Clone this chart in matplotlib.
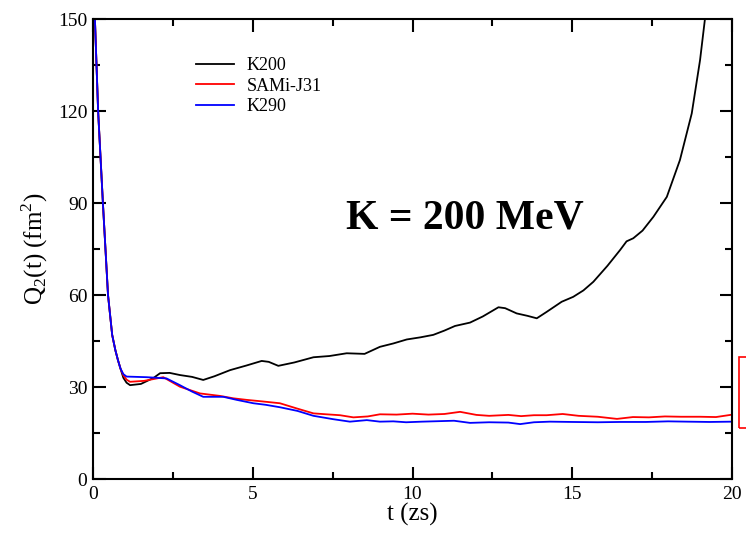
import matplotlib
matplotlib.use("Agg")
import matplotlib.pyplot as plt
from matplotlib.patches import Rectangle
from matplotlib.ticker import MultipleLocator

plt.rcParams['font.family'] = ['Liberation Serif', 'DejaVu Serif']
plt.rcParams['mathtext.fontset'] = 'custom'
plt.rcParams['mathtext.rm'] = 'Liberation Serif'

# shared initial decay (all three models coincide)
t_start = [0.0, 0.06, 0.16, 0.31, 0.47, 0.60, 0.70, 0.78, 0.86]
q_start = [156.0, 150.0, 120.0, 90.0, 60.0, 47.0, 42.0, 38.8, 36.0]

# K200
t_k200 = [0.95, 1.05, 1.16, 1.5, 1.9, 2.1, 2.4, 2.72, 3.1, 3.45, 3.8, 4.29, 4.8,
          5.28, 5.5, 5.8, 6.3, 6.9, 7.4, 7.94, 8.5, 8.98, 9.4, 9.82, 10.25, 10.65,
          11.0, 11.33, 11.8, 12.2, 12.69, 12.9, 13.26, 13.6, 13.89, 14.2, 14.67,
          15.03, 15.35, 15.66, 16.1, 16.5, 16.7, 16.91, 17.2, 17.54, 17.96, 18.37,
          18.74, 19.0, 19.15, 19.25]
q_k200 = [33.0, 31.4, 30.6, 31.0, 33.0, 34.5, 34.6, 33.9, 33.3, 32.3, 33.5, 35.5,
          37.0, 38.5, 38.2, 36.9, 38.0, 39.7, 40.1, 41.0, 40.8, 43.1, 44.2, 45.5,
          46.2, 47.0, 48.4, 49.9, 51.0, 53.0, 56.0, 55.7, 54.0, 53.2, 52.4, 54.5,
          57.8, 59.4, 61.5, 64.3, 69.5, 74.7, 77.5, 78.5, 81.0, 85.5, 92.0, 104.0,
          119.2, 136.6, 149.7, 160.0]

# SAMi-J31
t_sami = [0.95, 1.05, 1.16, 1.6, 2.2, 2.72, 3.35, 3.97, 4.4, 4.81, 5.3, 5.85, 6.38,
          6.9, 7.3, 7.73, 8.15, 8.6, 8.98, 9.5, 10.0, 10.5, 11.0, 11.49, 12.0, 12.4,
          13.0, 13.4, 13.8, 14.2, 14.7, 15.2, 15.8, 16.4, 16.9, 17.4, 17.9, 18.4,
          19.0, 19.5, 19.95]
q_sami = [33.8, 32.4, 31.7, 32.0, 33.2, 30.1, 27.9, 27.1, 26.3, 25.8, 25.3, 24.7,
          23.0, 21.4, 21.1, 20.8, 20.1, 20.4, 21.1, 21.0, 21.3, 21.0, 21.2, 21.9,
          20.9, 20.6, 20.9, 20.5, 20.8, 20.8, 21.2, 20.6, 20.3, 19.6, 20.2, 20.1,
          20.4, 20.3, 20.3, 20.2, 20.9]

# K290
t_k290 = [0.95, 1.05, 1.68, 2.3, 2.72, 3.1, 3.45, 4.08, 4.5, 5.02, 5.4, 5.85, 6.4,
          6.9, 7.52, 8.04, 8.57, 8.98, 9.4, 9.8, 10.3, 11.3, 11.8, 12.4, 13.0,
          13.37, 13.8, 14.3, 15.0, 15.8, 16.5, 17.3, 18.0, 18.6, 19.3, 20.0]
q_k290 = [34.2, 33.4, 33.2, 32.8, 30.6, 28.5, 26.8, 26.8, 25.8, 24.7, 24.2, 23.4,
          22.2, 20.6, 19.5, 18.7, 19.2, 18.7, 18.8, 18.5, 18.7, 19.0, 18.3, 18.5,
          18.4, 17.9, 18.5, 18.7, 18.6, 18.5, 18.6, 18.6, 18.8, 18.7, 18.6, 18.7]

fig = plt.figure(figsize=(7.46, 5.33), dpi=100)
ax = fig.add_axes([93/746, 1 - 479/533, 639/746, 460/533])

ax.plot(t_start + t_k200, q_start + q_k200, color='black', lw=1.3, label='K200')
ax.plot(t_start + t_sami, q_start + q_sami, color='#ff0000', lw=1.3, label='SAMi-J31')
ax.plot(t_start + t_k290, q_start + q_k290, color='#0000ff', lw=1.3, label='K290')

ax.set_xlim(0, 20)
ax.set_ylim(0, 150)
ax.xaxis.set_major_locator(MultipleLocator(5))
ax.xaxis.set_minor_locator(MultipleLocator(2.5))
ax.yaxis.set_major_locator(MultipleLocator(30))
ax.yaxis.set_minor_locator(MultipleLocator(15))
ax.tick_params(which='both', direction='in', top=True, right=True, width=1.5,
               labelsize=14)
ax.tick_params(which='major', length=9)
ax.tick_params(which='minor', length=5)
ax.tick_params(axis='y', pad=4)
ax.tick_params(axis='x', pad=5)
for s in ax.spines.values():
    s.set_linewidth(1.5)

ax.set_xlabel('t (zs)', fontsize=18, labelpad=0)
ax.set_ylabel(r'Q$_2$(t) (fm$^2$)', fontsize=18, labelpad=6)

ax.legend(loc='upper left', bbox_to_anchor=(0.161, 0.917), frameon=False,
          fontsize=13, handlelength=2.1, handletextpad=0.7, labelspacing=0.2,
          borderpad=0, borderaxespad=0)

ax.text(11.64, 85.0, 'K = 200 MeV', fontsize=30, fontweight='bold',
        ha='center', va='center')

fig.patches.append(Rectangle((739/746, 1 - 428/533), 20/746, 71/533,
                             transform=fig.transFigure, fill=False,
                             edgecolor='#ff0000', lw=1.2, clip_on=False))

fig.savefig('out.png', dpi=100)
